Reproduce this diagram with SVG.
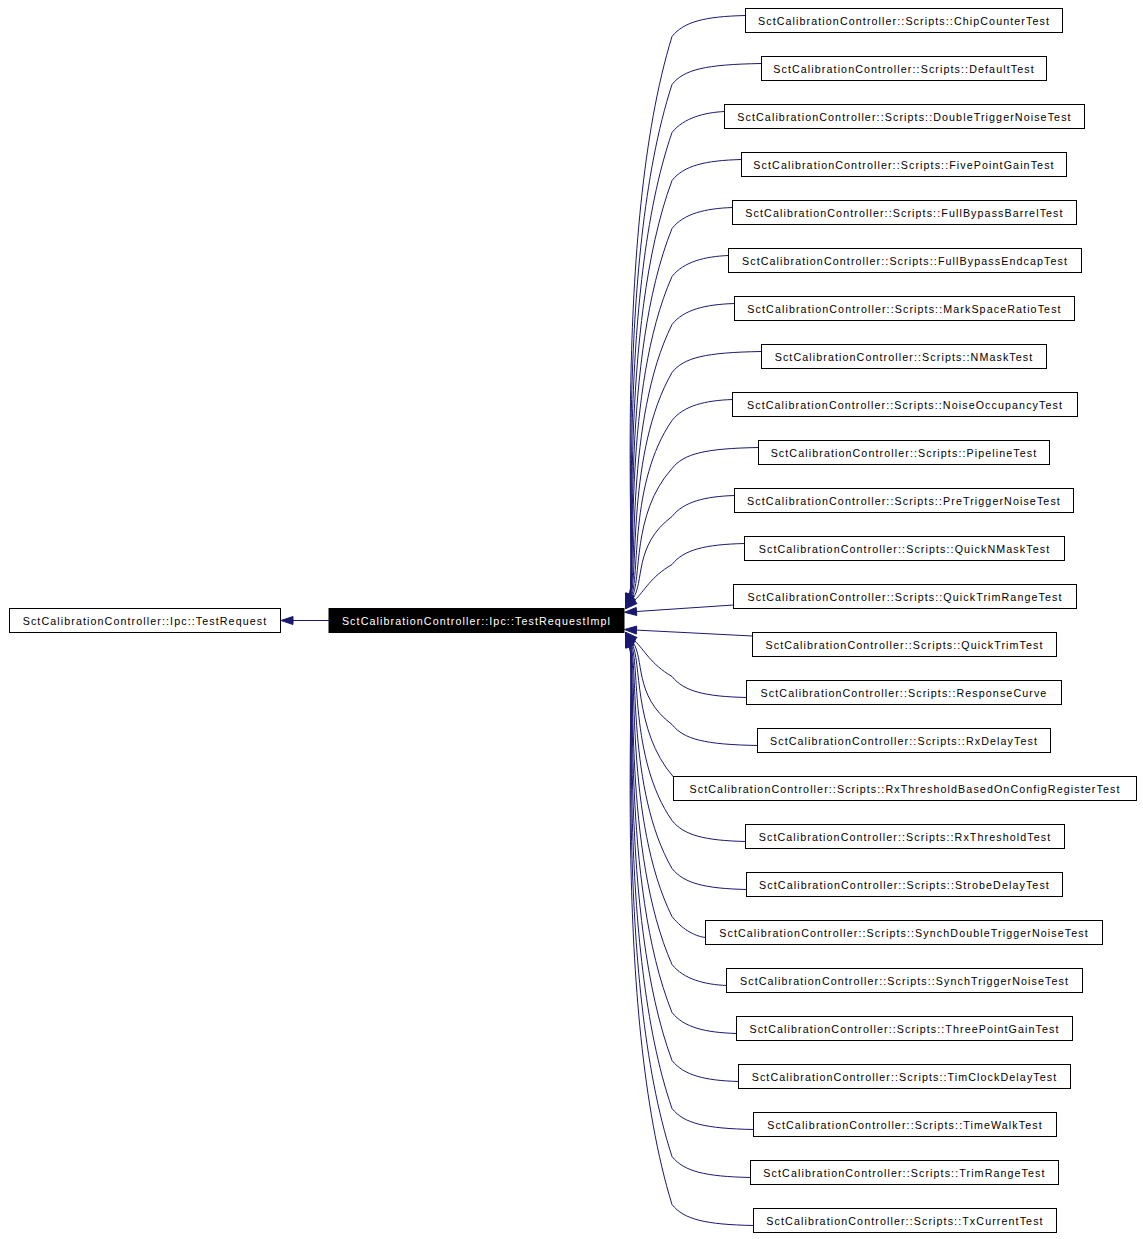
<svg xmlns="http://www.w3.org/2000/svg" width="1143" height="1239" viewBox="0 0 1143 1239">
<style>
.n rect{fill:#fff;stroke:#000;stroke-width:1}
.n text{font-family:"Liberation Sans",Arial,sans-serif;font-size:10.7px;letter-spacing:1.1px;text-anchor:middle;fill:#000}
.hl rect{fill:#000;stroke:#000}
.hl text{fill:#fff}
#edges path{fill:none;stroke:#191970;stroke-width:1}
#edges polygon{fill:#191970;stroke:#191970;stroke-width:1}
</style>
<rect width="1143" height="1239" fill="#fff"/>
<g id="edges">
<path d="M329,620.5 L293,620.5"/><polygon points="281,620.5 293,616.5 293,624.5"/>
<path d="M745.5,15.5 C705,16.5 684,21.5 672,36.5 C611.9,231.7 636.4,575.4 629.6,594.2"/><polygon points="625.5,605.5 633.4,595.6 625.8,592.8"/>
<path d="M761.5,63.5 C705,64.5 684,69.5 672,84.5 C614,263 636.4,575.7 629.6,594.5"/><polygon points="625.5,605.8 633.4,595.9 625.8,593.1"/>
<path d="M724.5,111.5 C705,112.5 684,117.5 672,132.5 C616.2,294.3 636.4,576 629.6,594.8"/><polygon points="625.5,606.1 633.4,596.2 625.8,593.4"/>
<path d="M741.5,159.5 C705,160.5 684,165.5 672,180.5 C618.3,325.6 636.4,576.3 629.6,595.1"/><polygon points="625.5,606.4 633.4,596.5 625.8,593.7"/>
<path d="M732.5,207.5 C705,208.5 684,213.5 672,228.5 C620.5,356.9 636.4,576.6 629.6,595.4"/><polygon points="625.5,606.7 633.4,596.8 625.8,594"/>
<path d="M728.5,255.5 C705,256.5 684,261.5 672,276.5 C622.6,388.2 636.4,576.9 629.6,595.7"/><polygon points="625.5,607 633.4,597.1 625.8,594.3"/>
<path d="M734.5,303.5 C705,304.5 684,309.5 672,324.5 C624.8,419.6 637.5,577.7 630,596.2"/><polygon points="625.5,607.3 633.7,597.7 626.3,594.7"/>
<path d="M761.5,351.5 C705,352.5 684,357.5 672,372.5 C626.9,450.9 638.5,578.3 630.4,596.6"/><polygon points="625.5,607.6 634.1,598.2 626.8,595"/>
<path d="M732.5,399.5 C705,400.5 684,405.5 672,420.5 C629,482.3 640.1,579.4 631,597.2"/><polygon points="625.5,607.9 634.6,599 627.4,595.4"/>
<path d="M758.5,447.5 C705,448.5 684,453.5 672,468.5 C631.2,513.8 642,580.8 631.7,597.9"/><polygon points="625.5,608.2 635.1,600 628.3,595.8"/>
<path d="M734.5,495.5 C705,496.5 684,501.5 672,516.5 C633.3,545.3 644.7,582.9 632.7,598.9"/><polygon points="625.5,608.5 635.9,601.3 629.5,596.5"/>
<path d="M744.5,543.5 C705,544.5 684,549.5 672,564.5 C650.3,577.1 644.8,590.8 634.3,600.6"/><polygon points="625.5,608.8 637,603.5 631.6,597.7"/>
<path d="M733.5,605 L636.5,611.5"/><polygon points="624.5,612.3 636.8,615.5 636.2,607.5"/>
<path d="M752.5,636 L636.5,630.1"/><polygon points="624.5,629.5 636.7,626.1 636.3,634.1"/>
<path d="M746.5,697.5 C705,696.5 684,691.5 672,676.5 C650.3,663.9 644.8,650.2 634.3,640.4"/><polygon points="625.5,632.2 637,637.5 631.6,643.3"/>
<path d="M757.5,745.5 C705,744.5 684,739.5 672,724.5 C633.3,695.7 644.7,658.1 632.7,642.1"/><polygon points="625.5,632.5 635.9,639.7 629.5,644.5"/>
<path d="M673.5,777 C632.5,730.1 642,660.2 631.7,643.1"/><polygon points="625.5,632.8 635.1,641 628.3,645.2"/>
<path d="M745.5,841.5 C705,840.5 684,835.5 672,820.5 C629,758.7 640.1,661.6 631,643.8"/><polygon points="625.5,633.1 634.6,642 627.4,645.6"/>
<path d="M746.5,889.5 C705,888.5 684,883.5 672,868.5 C626.9,790.1 638.5,662.7 630.4,644.4"/><polygon points="625.5,633.4 634.1,642.8 626.8,646"/>
<path d="M705.5,937.5 C697,936.5 684,931.5 672,916.5 C624.8,821.4 637.5,663.3 630,644.8"/><polygon points="625.5,633.7 633.7,643.3 626.3,646.3"/>
<path d="M726.5,985.5 C705,984.5 684,979.5 672,964.5 C622.6,852.8 636.4,664.1 629.6,645.3"/><polygon points="625.5,634 633.4,643.9 625.8,646.7"/>
<path d="M736.5,1033.5 C705,1032.5 684,1027.5 672,1012.5 C620.5,884.1 636.4,664.4 629.6,645.6"/><polygon points="625.5,634.3 633.4,644.2 625.8,647"/>
<path d="M738.5,1081.5 C705,1080.5 684,1075.5 672,1060.5 C618.3,915.4 636.4,664.7 629.6,645.9"/><polygon points="625.5,634.6 633.4,644.5 625.8,647.3"/>
<path d="M753.5,1129.5 C705,1128.5 684,1123.5 672,1108.5 C616.2,946.7 636.4,665 629.6,646.2"/><polygon points="625.5,634.9 633.4,644.8 625.8,647.6"/>
<path d="M750.5,1177.5 C705,1176.5 684,1171.5 672,1156.5 C614,978 636.4,665.3 629.6,646.5"/><polygon points="625.5,635.2 633.4,645.1 625.8,647.9"/>
<path d="M753.5,1225.5 C705,1224.5 684,1219.5 672,1204.5 C611.9,1009.3 636.4,665.6 629.6,646.8"/><polygon points="625.5,635.5 633.4,645.4 625.8,648.2"/>
</g>
<g id="TestRequest" class="n"><rect x="9.5" y="608.5" width="271" height="24"/><text x="145" y="624.5">SctCalibrationController::Ipc::TestRequest</text></g>
<g id="TestRequestImpl" class="n hl"><rect x="329" y="608.5" width="295" height="24"/><text x="476.5" y="624.5">SctCalibrationController::Ipc::TestRequestImpl</text></g>
<g id="ChipCounterTest" class="n"><rect x="745.5" y="8.5" width="317" height="24"/><text x="904" y="24.5">SctCalibrationController::Scripts::ChipCounterTest</text></g>
<g id="DefaultTest" class="n"><rect x="761.5" y="56.5" width="285" height="24"/><text x="904" y="72.5">SctCalibrationController::Scripts::DefaultTest</text></g>
<g id="DoubleTriggerNoiseTest" class="n"><rect x="724.5" y="104.5" width="360" height="24"/><text x="904.5" y="120.5">SctCalibrationController::Scripts::DoubleTriggerNoiseTest</text></g>
<g id="FivePointGainTest" class="n"><rect x="741.5" y="152.5" width="325" height="24"/><text x="904" y="168.5">SctCalibrationController::Scripts::FivePointGainTest</text></g>
<g id="FullBypassBarrelTest" class="n"><rect x="732.5" y="200.5" width="344" height="24"/><text x="904.5" y="216.5">SctCalibrationController::Scripts::FullBypassBarrelTest</text></g>
<g id="FullBypassEndcapTest" class="n"><rect x="728.5" y="248.5" width="353" height="24"/><text x="905" y="264.5">SctCalibrationController::Scripts::FullBypassEndcapTest</text></g>
<g id="MarkSpaceRatioTest" class="n"><rect x="734.5" y="296.5" width="340" height="24"/><text x="904.5" y="312.5">SctCalibrationController::Scripts::MarkSpaceRatioTest</text></g>
<g id="NMaskTest" class="n"><rect x="761.5" y="344.5" width="285" height="24"/><text x="904" y="360.5">SctCalibrationController::Scripts::NMaskTest</text></g>
<g id="NoiseOccupancyTest" class="n"><rect x="732.5" y="392.5" width="345" height="24"/><text x="905" y="408.5">SctCalibrationController::Scripts::NoiseOccupancyTest</text></g>
<g id="PipelineTest" class="n"><rect x="758.5" y="440.5" width="291" height="24"/><text x="904" y="456.5">SctCalibrationController::Scripts::PipelineTest</text></g>
<g id="PreTriggerNoiseTest" class="n"><rect x="734.5" y="488.5" width="339" height="24"/><text x="904" y="504.5">SctCalibrationController::Scripts::PreTriggerNoiseTest</text></g>
<g id="QuickNMaskTest" class="n"><rect x="744.5" y="536.5" width="320" height="24"/><text x="904.5" y="552.5">SctCalibrationController::Scripts::QuickNMaskTest</text></g>
<g id="QuickTrimRangeTest" class="n"><rect x="733.5" y="584.5" width="343" height="24"/><text x="905" y="600.5">SctCalibrationController::Scripts::QuickTrimRangeTest</text></g>
<g id="QuickTrimTest" class="n"><rect x="752.5" y="632.5" width="304" height="24"/><text x="904.5" y="648.5">SctCalibrationController::Scripts::QuickTrimTest</text></g>
<g id="ResponseCurve" class="n"><rect x="746.5" y="680.5" width="315" height="24"/><text x="904" y="696.5">SctCalibrationController::Scripts::ResponseCurve</text></g>
<g id="RxDelayTest" class="n"><rect x="757.5" y="728.5" width="293" height="24"/><text x="904" y="744.5">SctCalibrationController::Scripts::RxDelayTest</text></g>
<g id="RxThresholdBasedOnConfigRegisterTest" class="n"><rect x="673.5" y="776.5" width="463" height="24"/><text x="905" y="792.5">SctCalibrationController::Scripts::RxThresholdBasedOnConfigRegisterTest</text></g>
<g id="RxThresholdTest" class="n"><rect x="745.5" y="824.5" width="319" height="24"/><text x="905" y="840.5">SctCalibrationController::Scripts::RxThresholdTest</text></g>
<g id="StrobeDelayTest" class="n"><rect x="746.5" y="872.5" width="316" height="24"/><text x="904.5" y="888.5">SctCalibrationController::Scripts::StrobeDelayTest</text></g>
<g id="SynchDoubleTriggerNoiseTest" class="n"><rect x="705.5" y="920.5" width="397" height="24"/><text x="904" y="936.5">SctCalibrationController::Scripts::SynchDoubleTriggerNoiseTest</text></g>
<g id="SynchTriggerNoiseTest" class="n"><rect x="726.5" y="968.5" width="356" height="24"/><text x="904.5" y="984.5">SctCalibrationController::Scripts::SynchTriggerNoiseTest</text></g>
<g id="ThreePointGainTest" class="n"><rect x="736.5" y="1016.5" width="336" height="24"/><text x="904.5" y="1032.5">SctCalibrationController::Scripts::ThreePointGainTest</text></g>
<g id="TimClockDelayTest" class="n"><rect x="738.5" y="1064.5" width="332" height="24"/><text x="904.5" y="1080.5">SctCalibrationController::Scripts::TimClockDelayTest</text></g>
<g id="TimeWalkTest" class="n"><rect x="753.5" y="1112.5" width="303" height="24"/><text x="905" y="1128.5">SctCalibrationController::Scripts::TimeWalkTest</text></g>
<g id="TrimRangeTest" class="n"><rect x="750.5" y="1160.5" width="308" height="24"/><text x="904.5" y="1176.5">SctCalibrationController::Scripts::TrimRangeTest</text></g>
<g id="TxCurrentTest" class="n"><rect x="753.5" y="1208.5" width="303" height="24"/><text x="905" y="1224.5">SctCalibrationController::Scripts::TxCurrentTest</text></g>
</svg>
